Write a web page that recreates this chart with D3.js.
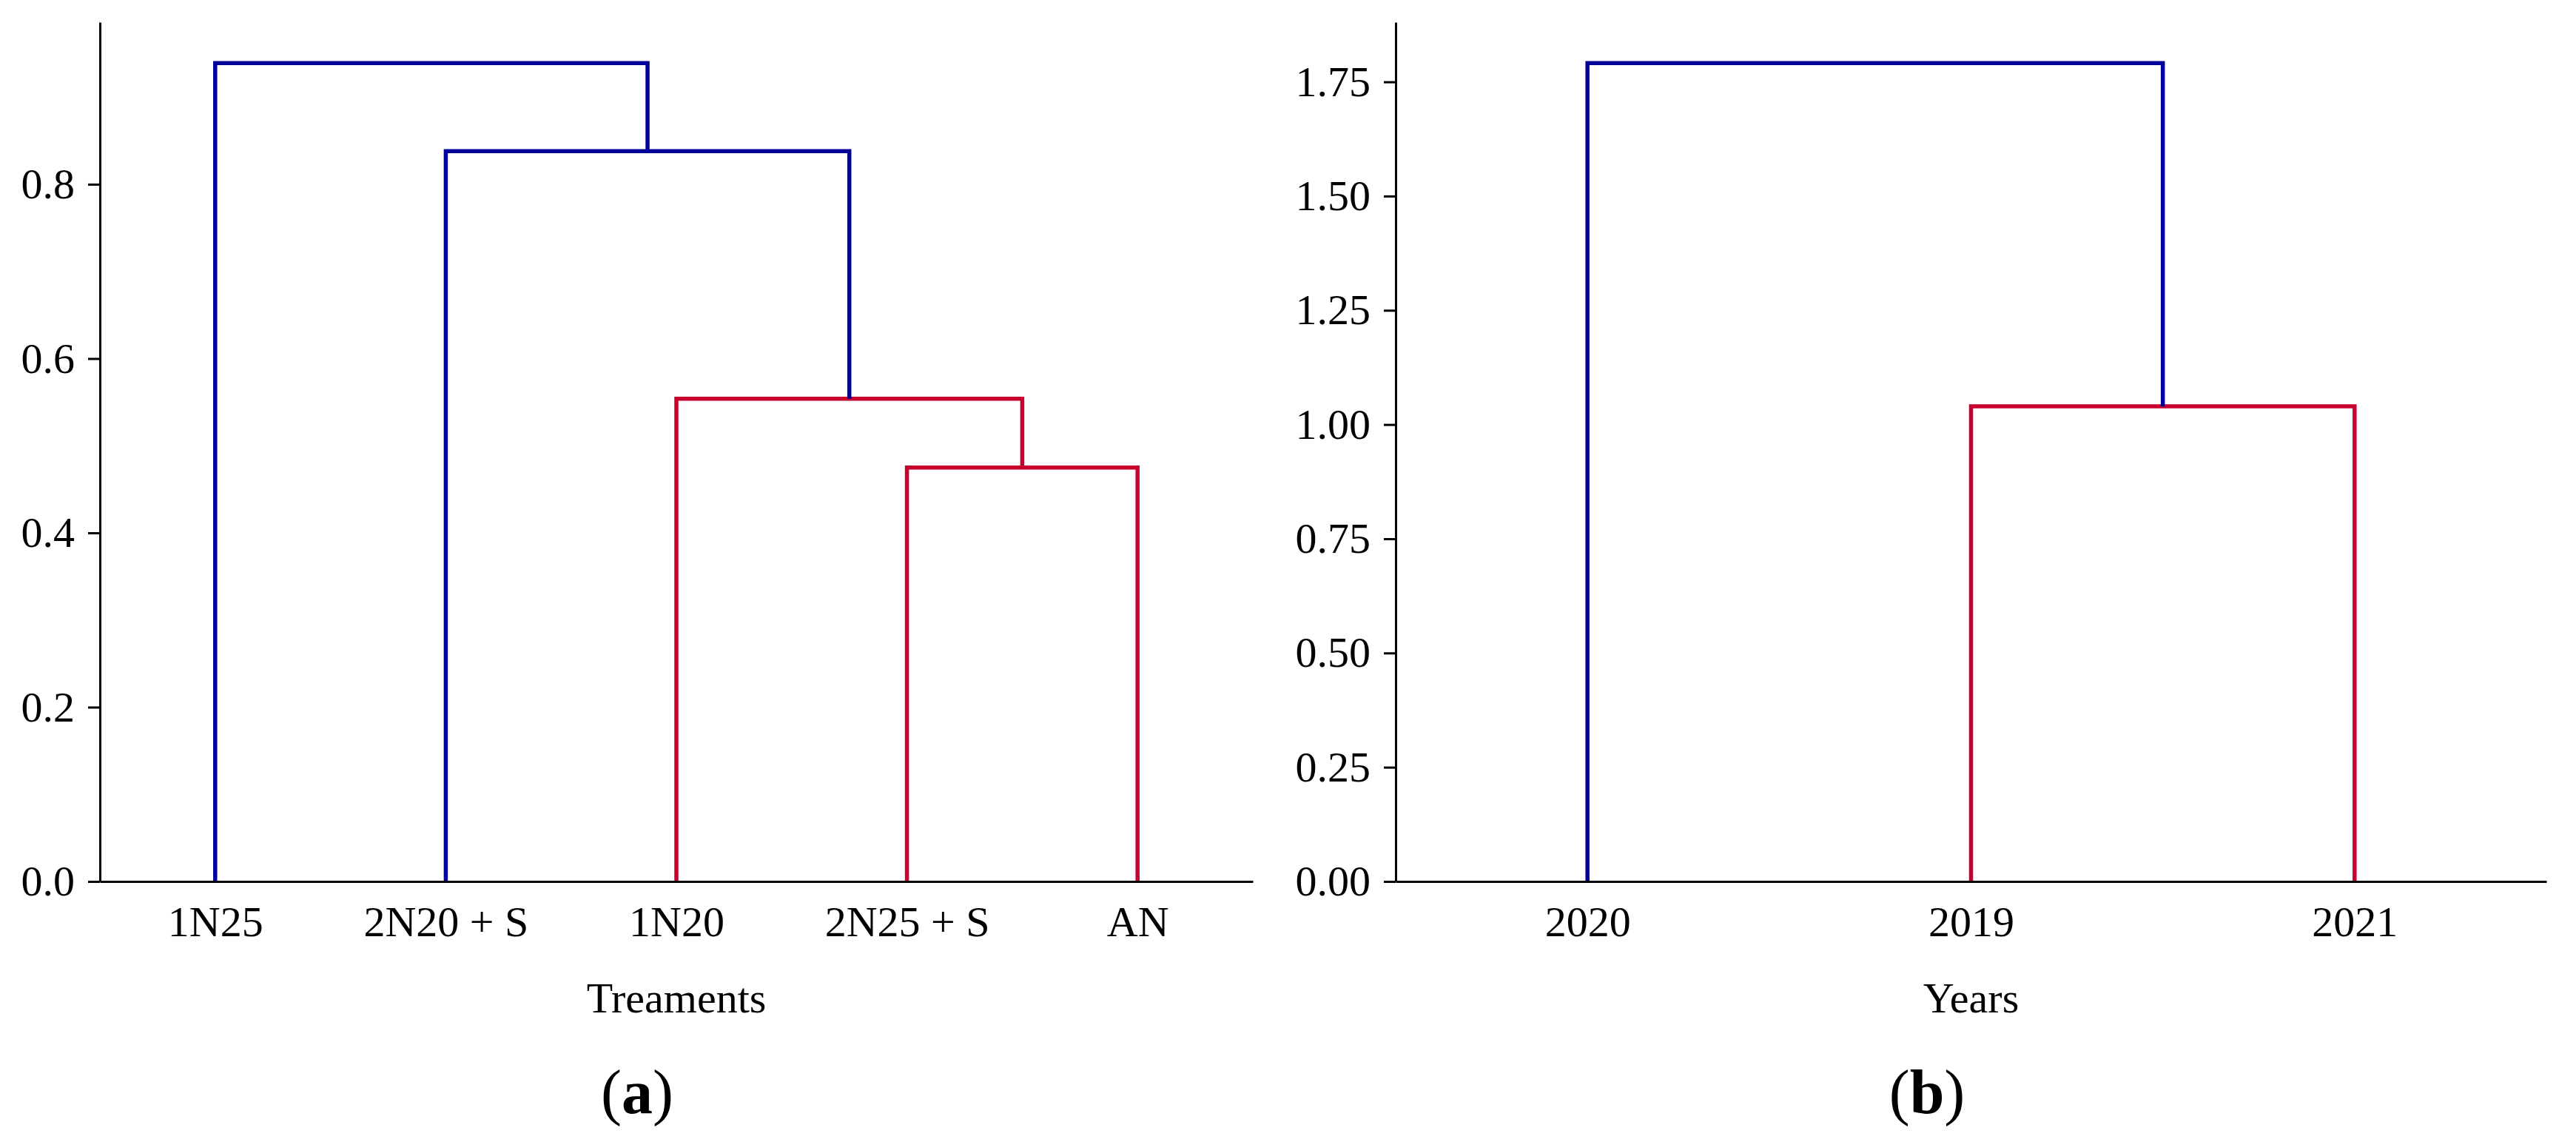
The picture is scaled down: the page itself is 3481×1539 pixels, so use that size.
<!DOCTYPE html>
<html>
<head>
<meta charset="utf-8">
<script src="https://cdn.jsdelivr.net/npm/d3@7"></script>
<style>
  body { margin: 0; background: #fff; }
  svg { display: block; }
</style>
</head>
<body>
<div id="chart"></div>
<script>
// (a) treatments, leaves in plotted order
var treatLeaves = ["1N25", "2N20 + S", "1N20", "2N25 + S", "AN"];
// linkage rows: [child A, child B, height]; ids >= leaf count point to earlier rows
var treatLinks = [[3, 4, 0.475], [2, 5, 0.554], [1, 6, 0.838], [0, 7, 0.939]];
var treatTicks = [0, 0.2, 0.4, 0.6, 0.8];

// (b) years
var yearLeaves = ["2020", "2019", "2021"];
var yearLinks = [[1, 2, 1.040], [0, 3, 1.791]];
var yearTicks = [0, 0.25, 0.5, 0.75, 1.0, 1.25, 1.5, 1.75];

var W = 3481, H = 1539;
var font = "'Liberation Serif', 'Times New Roman', serif";
var blue = "#000099", red = "#c8002d";
var baseY = 1191, topY = 30;

var svg = d3.select("#chart")
  .append("svg")
  .attr("width", W)
  .attr("height", H);

function drawPanel(leaves, links, ticks, fmt, x0, x1, title, letter, capX) {
  var n = leaves.length;
  var x = d3.scaleLinear().domain([0, n]).range([x0, x1]);
  var hMax = d3.max(links, function(d) { return d[2]; });
  var y = d3.scaleLinear().domain([0, hMax * 1.05]).range([baseY, topY]);
  var cut = 0.7 * hMax;

  var g = svg.append("g");

  // leaves sit at i + 0.5, each cluster at the mean of its two children
  var nodes = leaves.map(function(d, i) { return {p: i + 0.5, h: 0}; });
  links.forEach(function(l) {
    var a = nodes[l[0]], b = nodes[l[1]];
    nodes.push({p: (a.p + b.p) / 2, h: l[2], a: a, b: b});
  });

  var line = d3.line();
  g.selectAll("path.link")
    .data(nodes.filter(function(d) { return d.a; }))
    .enter()
    .append("path")
    .attr("class", "link")
    .attr("d", function(d) {
      return line([
        [x(d.a.p), y(d.a.h)],
        [x(d.a.p), y(d.h)],
        [x(d.b.p), y(d.h)],
        [x(d.b.p), y(d.b.h)]
      ]);
    })
    .attr("fill", "none")
    .attr("stroke", function(d) { return d.h < cut ? red : blue; })
    .attr("stroke-width", 5.5);

  var xAxis = d3.axisBottom(x)
    .tickValues(leaves.map(function(d, i) { return i + 0.5; }))
    .tickFormat(function(d, i) { return leaves[i]; })
    .tickSize(0)
    .tickPadding(33);
  var gx = g.append("g")
    .attr("transform", "translate(0," + baseY + ")")
    .call(xAxis);

  var yAxis = d3.axisLeft(y)
    .tickValues(ticks)
    .tickFormat(d3.format(fmt))
    .tickSizeInner(16)
    .tickSizeOuter(0)
    .tickPadding(18);
  var gy = g.append("g")
    .attr("transform", "translate(" + x0 + ",0)")
    .call(yAxis);

  [gx, gy].forEach(function(ax) {
    ax.select(".domain").attr("stroke", "#000").attr("stroke-width", 3);
    ax.selectAll(".tick line").attr("stroke", "#000").attr("stroke-width", 3);
    ax.selectAll("text")
      .attr("font-family", font)
      .attr("font-size", 58)
      .attr("fill", "#000");
  });

  g.append("text")
    .attr("x", (x0 + x1) / 2)
    .attr("y", 1368)
    .attr("text-anchor", "middle")
    .attr("font-family", font)
    .attr("font-size", 58)
    .text(title);

  var cap = g.append("text")
    .attr("x", capX)
    .attr("y", 1504)
    .attr("text-anchor", "middle")
    .attr("font-family", font)
    .attr("font-size", 84);
  cap.append("tspan").text("(");
  cap.append("tspan").attr("font-weight", "bold").text(letter);
  cap.append("tspan").text(")");
}

drawPanel(treatLeaves, treatLinks, treatTicks, ".1f", 135, 1693, "Treaments", "a", 861);
drawPanel(yearLeaves, yearLinks, yearTicks, ".2f", 1886, 3441, "Years", "b", 2604);
</script>
</body>
</html>
